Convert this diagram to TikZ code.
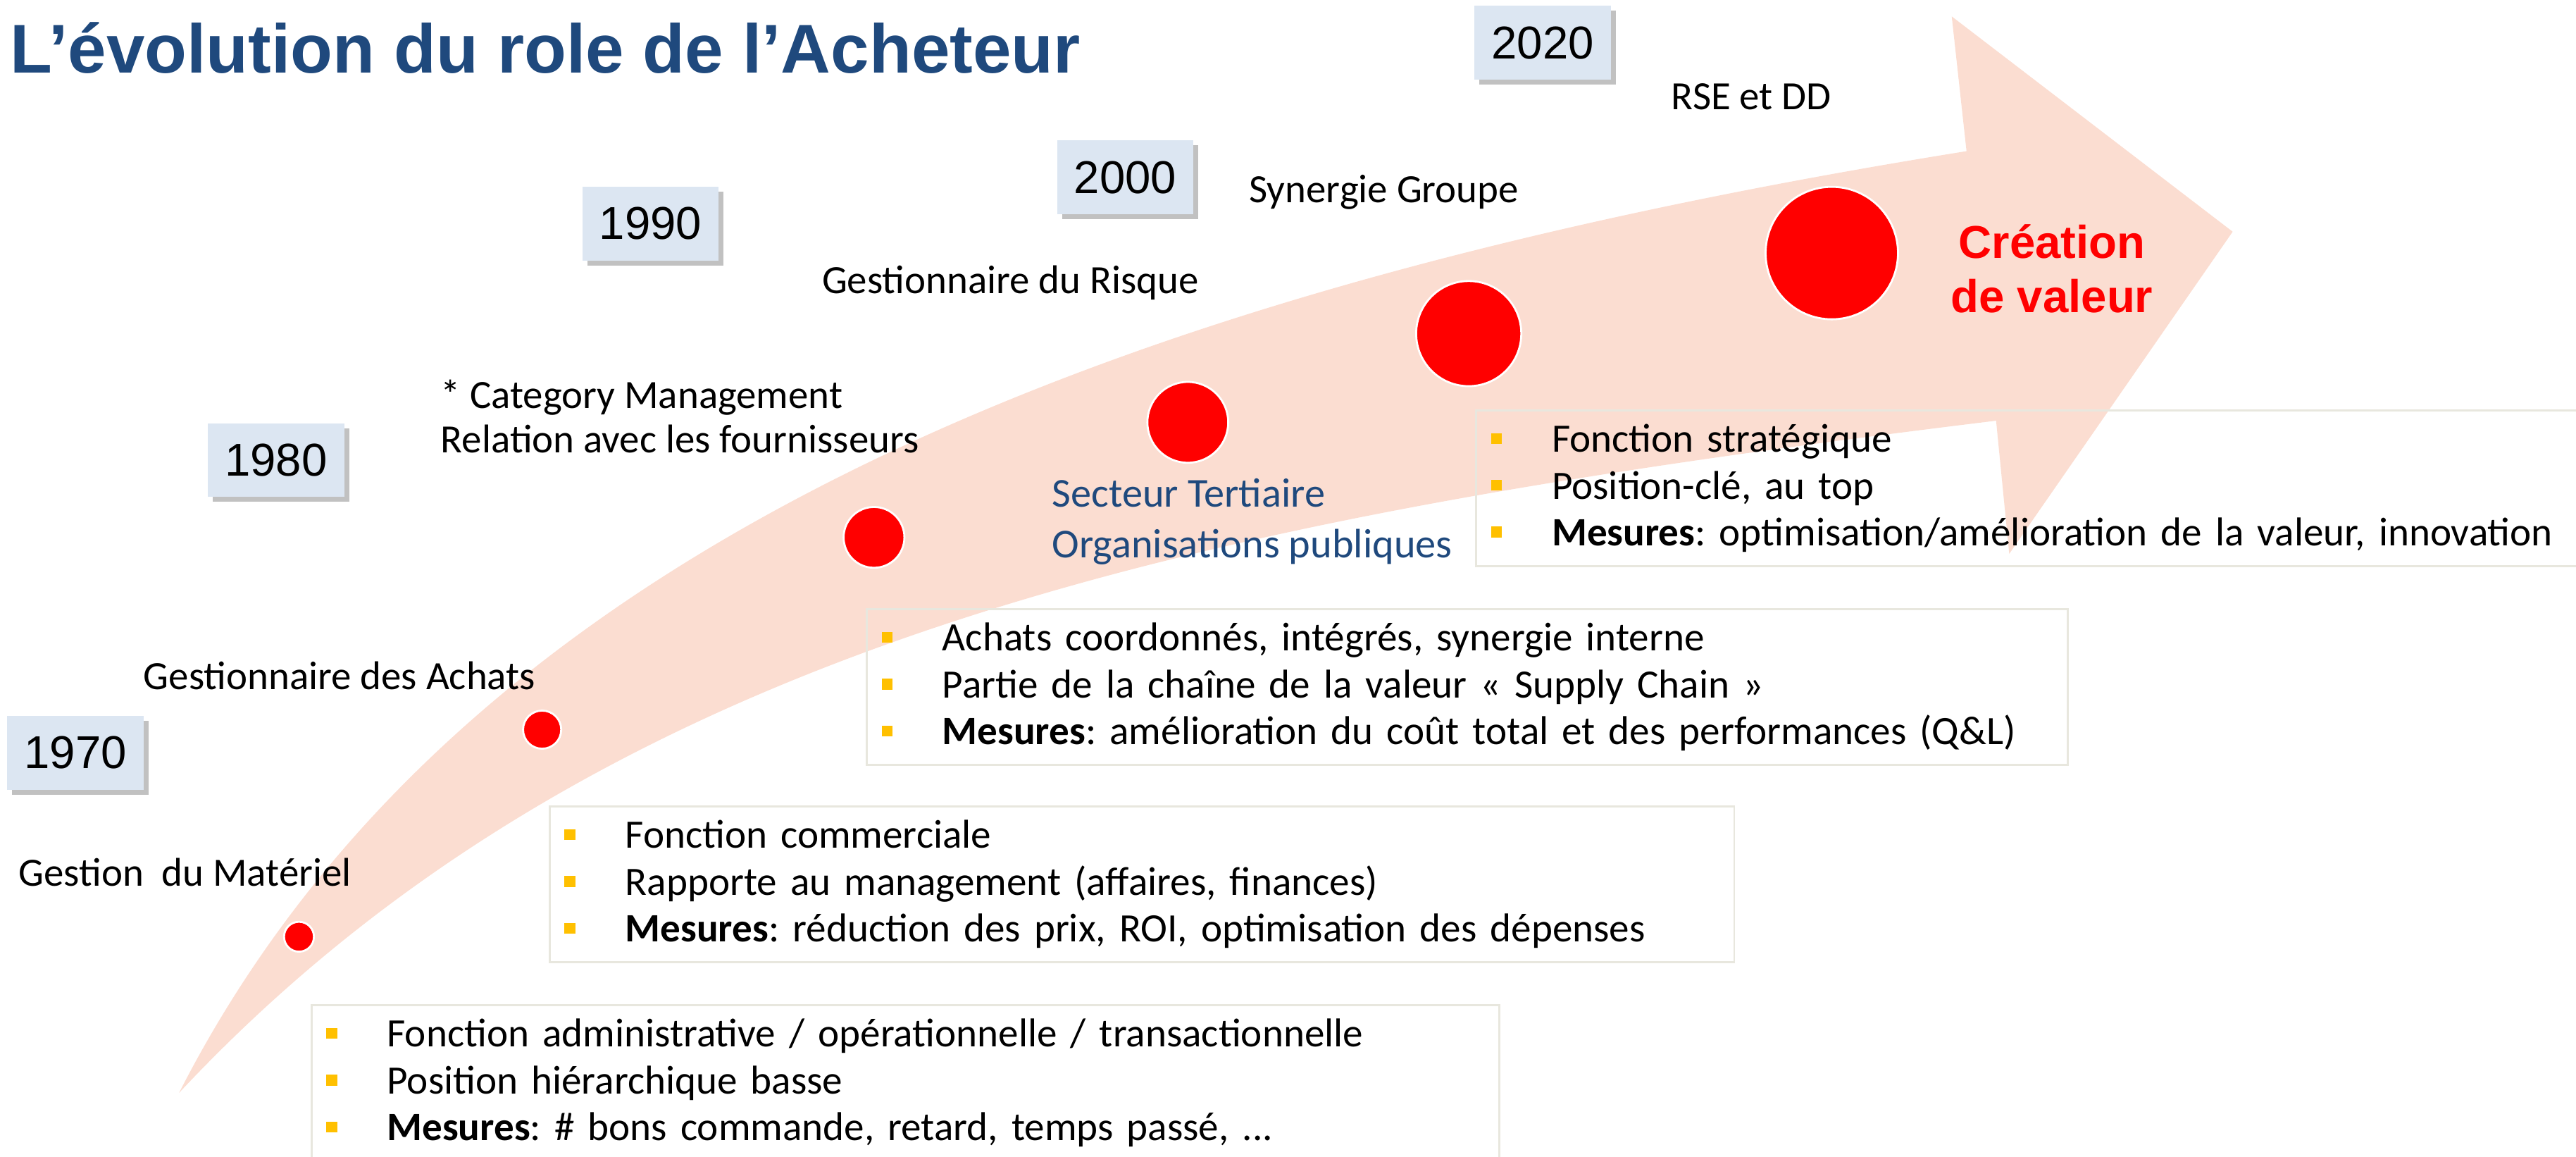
\documentclass[tikz,border=0pt]{standalone}
\usepackage{fontspec}
\setmainfont{Carlito}
\newfontfamily\arialfont{Liberation Sans}
\usepackage{tikz}
\usetikzlibrary{positioning, shadows}

\definecolor{titleblue}{RGB}{31,73,125}
\definecolor{arrowpink}{RGB}{251,221,209}
\definecolor{yearblue}{RGB}{220,230,242}
\definecolor{bulletyellow}{RGB}{255,192,0}
\definecolor{boxline}{RGB}{232,231,222}
\definecolor{dotred}{RGB}{255,0,0}

\newcommand{\sqbullet}{\makebox[18.5pt][l]{\textcolor{bulletyellow}{\rule[2.5pt]{3.3pt}{3.3pt}}}}
\frenchspacing

\begin{document}
\begin{tikzpicture}[x=0.5pt,y=0.5pt,yscale=-1,xscale=1,
    yearbox/.style={fill=yearblue, minimum width=41.5pt, minimum height=22.5pt, inner sep=0pt,
        font=\arialfont\fontsize{14}{16}\selectfont,
        drop shadow={shadow xshift=1.5pt, shadow yshift=-1.5pt, opacity=0.35, fill=black!70}},
    lbl/.style={anchor=west, inner sep=0pt, align=left, font=\fontsize{12.2}{13.5}\selectfont},
    bulletbox/.style={draw=boxline, line width=0.6pt, anchor=north west, align=left,
        inner xsep=4.5pt, inner ysep=0pt, minimum height=47.5pt, font=\fontsize{12.25}{14.25}\selectfont},
    dot/.style={circle, fill=dotred, draw=white, line width=0.6pt, inner sep=0pt}]
    \useasboundingbox (0,0) rectangle (1568,704);

    %Shape: Curved Arrow
    \fill[arrowpink] (109,665) .. controls (280,330) and (680,175) .. (1197,92) -- (1188,10) -- (1359,141) -- (1223,337) -- (1215,256) .. controls (750,313) and (373,383) .. (109,665) -- cycle;

    %Shape: Circles
    \draw (182,570) node (d1970) [dot, minimum size=9.1pt] {};
    \draw (330,444) node (d1980) [dot, minimum size=11.6pt] {};
    \draw (532,327) node (d1990) [dot, minimum size=18.5pt] {};
    \draw (723,257) node (d2000) [dot, minimum size=24.6pt] {};
    \draw (894,203) node (d2010) [dot, minimum size=32pt] {};
    \draw (1115,154) node (d2020) [dot, minimum size=40.3pt] {};

    %Shape: Year boxes
    \draw (46,458) node (y1970) [yearbox] {1970};
    \draw (168,280) node (y1980) [yearbox] {1980};
    \draw (396,136) node (y1990) [yearbox] {1990};
    \draw (685,108) node (y2000) [yearbox] {2000};
    \draw (939,26) node (y2020) [yearbox] {2020};

    %Shape: Bullet boxes
    \draw (189,611) node (b1970) [bulletbox, text width=352.5pt] {\sqbullet Fonction administrative / opérationnelle / transactionnelle\\ \sqbullet Position hiérarchique basse\\ \sqbullet \textbf{Mesures}: \# bons commande, retard, temps passé, ...};
    \draw (334,490) node (b1980) [bulletbox, text width=351.5pt] {\sqbullet Fonction commerciale\\ \sqbullet Rapporte au management (affaires, finances)\\ \sqbullet \textbf{Mesures}: réduction des prix, ROI, optimisation des dépenses};
    \draw (527,370) node (b1990) [bulletbox, text width=356.5pt] {\sqbullet Achats coordonnés, intégrés, synergie interne\\ \sqbullet Partie de la chaîne de la valeur « Supply Chain »\\ \sqbullet \textbf{Mesures}: amélioration du coût total et des performances (Q\&L)};
    \draw (898,249) node (b2020) [bulletbox, text width=326pt] {\sqbullet Fonction stratégique\\ \sqbullet Position-clé, au top\\ \sqbullet \textbf{Mesures}: optimisation/amélioration de la valeur, innovation};

    % Text Node
    \draw (6,44.5) node (title) [anchor=base west, inner sep=0pt, text=titleblue, font=\arialfont\bfseries\fontsize{21}{24}\selectfont] {L’évolution du role de l’Acheteur};
    % Text Node
    \draw (11,531) node (l1970) [lbl] {Gestion\ \ du Matériel};
    % Text Node
    \draw (87,411) node (l1980) [lbl] {Gestionnaire des Achats};
    % Text Node
    \draw (268,253.5) node (l1990) [lbl] {* Category Management\\Relation avec les fournisseurs};
    % Text Node
    \draw (500,172) node (l2000) [lbl] {Gestionnaire du Risque};
    % Text Node
    \draw (760,117) node (l2010) [lbl] {Synergie Groupe};
    % Text Node
    \draw (1017,59) node (l2020) [lbl] {RSE et DD};
    % Text Node
    \draw (640,317.5) node (secteur) [lbl, text=titleblue, font=\fontsize{12.5}{15.5}\selectfont] {Secteur Tertiaire\\Organisations publiques};
    % Text Node
    \draw (1249,163.5) node (valeur) [align=center, inner sep=0pt, text=dotred, font=\arialfont\bfseries\fontsize{14}{16.5}\selectfont] {Création\\de valeur};
\end{tikzpicture}
\end{document}
